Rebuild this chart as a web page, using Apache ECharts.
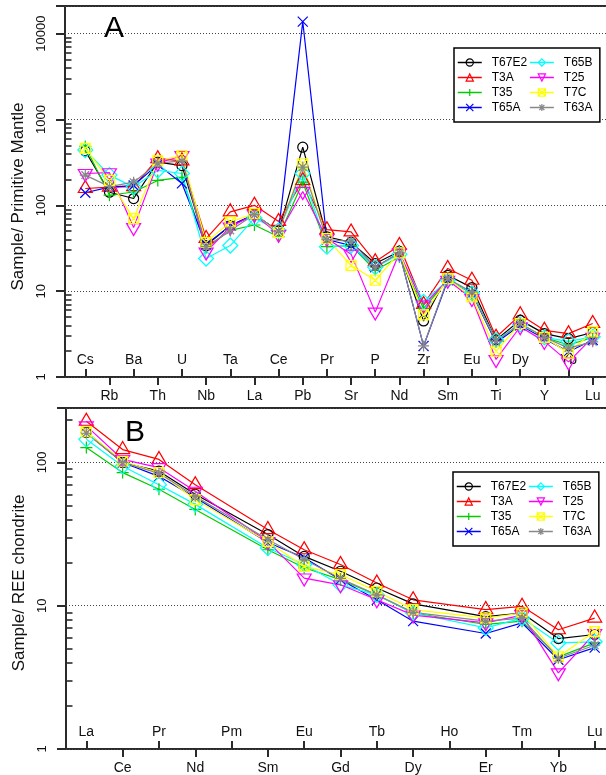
<!DOCTYPE html>
<html><head><meta charset="utf-8">
<script src="https://cdn.jsdelivr.net/npm/echarts@6/dist/echarts.min.js"></script>
<style>html,body{margin:0;padding:0;background:#fff}#c{width:606px;height:775px}</style>
</head><body><div id="c"></div>
<script>
// ---------- DATA ----------
const sampleNames = ['T67E2','T3A','T35','T65A','T65B','T25','T7C','T63A'];
const spiderElements = ['Cs','Rb','Ba','Th','U','Nb','Ta','La','Ce','Pb','Pr','Sr','P','Nd','Zr','Sm','Eu','Ti','Dy','Y','Yb','Lu'];
const reeElements = ['La','Ce','Pr','Nd','Pm','Sm','Eu','Gd','Tb','Dy','Ho','Er','Tm','Yb','Lu'];

// Panel A: sample / primitive mantle
const spiderT67E2 = [430,142,120,318,290,34,58,78,50,476,43,37,21,29,4.5,15.3,11,2.7,4.6,3.2,2.8,3.3];
const spiderT3A   = [157,163,165,350,330,41,84,100,65,195,52,49,22,34,7.0,18.4,13.4,2.9,5.3,3.5,3.2,4.2];
const spiderT35   = [485,131,143,195,212,32,51,59,43,186,33,34,17.5,25,6.3,13.4,9.5,2.6,4.2,2.9,2.36,2.9];
const spiderT65A  = [140,163,170,300,180,35,58,78,50,13800,40,34,19,28,2.3,13.4,9.5,2.5,4.0,2.8,1.97,2.7];
const spiderT65B  = [440,225,163,255,235,24,34,71,51,235,33,34,19,27,7.5,13.4,9.5,2.7,4.1,2.9,2.6,2.94];
const spiderT25   = [235,240,55,310,380,28.6,56,78,46,145,41,27,5.7,28,6.9,13.4,8.2,1.6,3.85,2.6,1.5,2.9];
const spiderT7C   = [460,195,70,330,380,37,64,80,48,305,41,20,13.4,28,5.3,14,8.6,2.0,4.2,2.9,1.9,3.36];
const spiderT63A  = [225,165,186,310,330,33,51,78,50,279,40,38,19,28,2.3,14,9.8,2.6,4.2,2.9,2.17,2.57];

// Panel B: sample / REE chondrite (Pm, Ho not analysed)
const reeT67E2 = [162,100,87,60,null,31.4,22.1,17.4,13.3,10.3,null,8.4,8.9,5.9,6.3];
const reeT3A   = [194,123,105,70,null,34,24.6,19.4,14.4,11.0,null,9.4,9.9,6.8,8.2];
const reeT35   = [127,85,65,47,null,24.6,18.4,15.2,11.9,8.9,null,7.4,7.8,4.4,5.5];
const reeT65A  = [164,100,80,57,null,27.6,21.6,15.2,11.0,7.8,null,6.4,7.6,4.2,5.1];
const reeT65B  = [145,94,70,51,null,25.3,19.4,14.0,11.9,8.9,null,7.0,8.2,5.5,5.6];
const reeT25   = [180,105,92,63,null,28,15.6,14.0,11.0,8.6,null,7.6,8.6,3.4,6.4];
const reeT7C   = [164,102,85,55,null,28,18.8,16.5,12.6,9.4,null,8.2,8.9,4.4,6.6];
const reeT63A  = [160,100,84,58,null,29,21,15.5,11.9,9.0,null,7.8,8.2,4.3,5.3];

// Axis ticks
const spiderMajorTicks = [1,10,100,1000,10000,21000];
const spiderTickLabels = [1,10,100,1000,10000];
const spiderMinorTicks = [2,3,4,5,6,7,8,9,20,30,40,50,60,70,80,90,200,300,400,500,600,700,800,900,2000,3000,4000,5000,6000,7000,8000,9000];
const reeMajorTicks = [1,10,100,240];
const reeTickLabels = [1,10,100];
const reeMinorTicks = [2,3,4,5,6,7,8,9,20,30,40,50,60,70,80,90,200];

const spiderSets = [spiderT67E2,spiderT3A,spiderT35,spiderT65A,spiderT65B,spiderT25,spiderT7C,spiderT63A];
const reeSets = [reeT67E2,reeT3A,reeT35,reeT65A,reeT65B,reeT25,reeT7C,reeT63A];

// ---------- STYLE ----------
const FONT = "'Liberation Sans', Arial, sans-serif";
const INK = '#111';
const FRAME = '#2a2a2a';
const CLEAR = 'rgba(0,0,0,0)';
const colors = ['#000000','#FF0000','#00CD00','#0000FF','#00FFFF','#FF00FF','#FFFF00','#888888'];
const symbols = [
  {symbol:'circle', size:10},
  {symbol:'triangle', size:[14,12], offset:[0,-2]},
  {symbol:'path://M5 0L5 10M0 5L10 5', size:12},
  {symbol:'path://M0 0L10 10M10 0L0 10', size:10},
  {symbol:'diamond', size:15},
  {symbol:'triangle', size:[14,12], rotate:180, offset:[0,2]},
  {symbol:'path://M0 0L10 0L10 10L0 10ZM0 0L10 10M10 0L0 10', size:10},
  {symbol:'path://M5 0L5 10M0 5L10 5M1.5 1.5L8.5 8.5M8.5 1.5L1.5 8.5', size:11}
];

function buildSeries(sets, xi, yi) {
  return sampleNames.map((name, k) => ({
    type: 'line', name, xAxisIndex: xi, yAxisIndex: yi,
    data: sets[k].map((v, i) => [i, v]),
    connectNulls: true,
    symbol: symbols[k].symbol, symbolSize: symbols[k].size,
    symbolRotate: symbols[k].rotate || 0,
    symbolOffset: symbols[k].offset || [0,0],
    lineStyle: {color: colors[k], width: 1.2},
    itemStyle: {color: CLEAR, borderColor: colors[k], borderWidth: 1.2},
    emphasis: {disabled: true},
    animation: false
  }));
}

function xAxes(gridIndex, names, min, max) {
  const idx = names.map((_, i) => i);
  const odd = idx.filter(i => i % 2 === 1);
  const even = idx.filter(i => i % 2 === 0);
  const fmt = v => names[Math.round(v)];
  const lab = {fontSize: 14, color: INK, fontFamily: FONT, formatter: fmt};
  const tick = {width: 2, color: FRAME};
  return [
    {type:'value', gridIndex, position:'bottom', min, max,
     axisLine:{show:false, onZero:false}, splitLine:{show:false},
     axisTick:{show:true, inside:false, length:8, customValues:odd, lineStyle:tick},
     axisLabel:Object.assign({customValues:odd, margin:12}, lab)},
    {type:'value', gridIndex, position:'bottom', min, max,
     axisLine:{show:false, onZero:false}, splitLine:{show:false},
     axisTick:{show:true, inside:true, length:8, customValues:even, lineStyle:tick},
     axisLabel:Object.assign({customValues:even, inside:true, margin:10}, lab)}
  ];
}

function yAxes(gridIndex, max, major, labels, minor, name, namePad) {
  return [
    {type:'log', gridIndex, position:'left', min:1, max,
     axisLine:{show:false, onZero:false},
     axisTick:{show:true, length:9, customValues:major, lineStyle:{width:2, color:FRAME}},
     axisLabel:{rotate:90, margin:17, fontSize:13, color:INK, fontFamily:FONT, customValues:labels,
                formatter: v => String(Math.round(v))},
     splitLine:{show:true, lineStyle:{type:[1,2], color:'#444', width:1}},
     name, nameLocation:'middle', nameGap:31,
     nameTextStyle:{fontSize:17, color:INK, fontFamily:FONT, padding:namePad}},
    {type:'log', gridIndex, position:'left', min:1, max,
     axisLine:{show:false, onZero:false}, axisLabel:{show:false}, splitLine:{show:false},
     axisTick:{show:true, inside:true, length:6.5, customValues:minor, lineStyle:{width:1.6, color:FRAME}}}
  ];
}

function legendAt(left, top) {
  return {
    orient:'vertical', left, top, height:60, itemGap:2, itemWidth:24, itemHeight:9,
    padding:[8,5,8,3], borderColor:'#000', borderWidth:1.5, backgroundColor:'#fff',
    selectedMode:false,
    data: sampleNames.map((n, k) => ({
      name: n,
      itemStyle: {color: CLEAR, borderColor: colors[k], borderWidth: 1.2},
      lineStyle: {color: colors[k], width: 1.5}
    })),
    textStyle:{fontSize:12, color:'#000', fontFamily:FONT, width:31, lineHeight:13, padding:[0,0,0,5]}
  };
}

const option = {
  backgroundColor:'#fff',
  animation:false,
  textStyle:{fontFamily:FONT},
  title:[
    {text:'A', left:104, top:14, padding:0, textStyle:{fontSize:30, fontWeight:'normal', color:'#000', fontFamily:FONT}},
    {text:'B', left:125, top:418, padding:0, textStyle:{fontSize:30, fontWeight:'normal', color:'#000', fontFamily:FONT}}
  ],
  legend:[legendAt(454, 48), legendAt(453, 472)],
  grid:[
    {left:65, top:6, width:548, height:371, outerBoundsMode:'none', containLabel:false,
     show:true, borderColor:FRAME, borderWidth:2, backgroundColor:CLEAR},
    {left:66, top:408, width:549, height:341, outerBoundsMode:'none', containLabel:false,
     show:true, borderColor:FRAME, borderWidth:2, backgroundColor:CLEAR}
  ],
  xAxis:[].concat(xAxes(0, spiderElements, -0.84, 21.84), xAxes(1, reeElements, -0.56, 14.56)),
  yAxis:[].concat(yAxes(0, 21000, spiderMajorTicks, spiderTickLabels, spiderMinorTicks, 'Sample/ Primitive Mantle', [0,10,0,0]),
                  yAxes(1, 240, reeMajorTicks, reeTickLabels, reeMinorTicks, 'Sample/ REE chondrite', [0,9,0,0])),
  series:[].concat(buildSeries(spiderSets, 0, 0), buildSeries(reeSets, 2, 2))
};

const chart = echarts.init(document.getElementById('c'), null, {renderer:'canvas'});
chart.setOption(option);
</script>
</body></html>
